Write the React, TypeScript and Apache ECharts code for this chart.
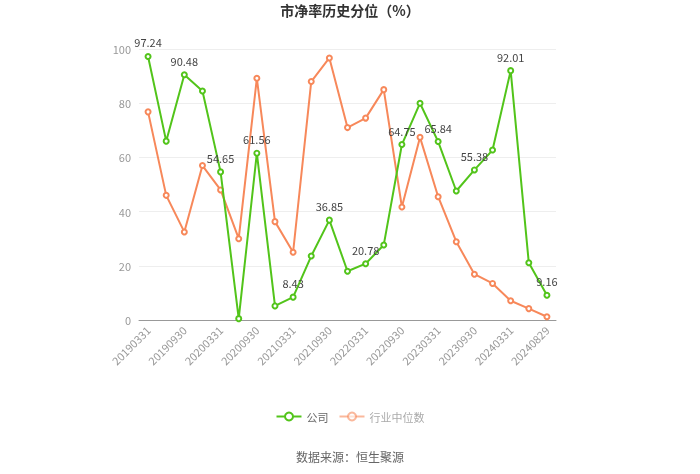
import React, { useEffect, useRef } from "react";
import * as echarts from "echarts";

const categories = [
  "20190331", "20190630", "20190930", "20191231", "20200331", "20200630",
  "20200930", "20201231", "20210331", "20210630", "20210930", "20211231",
  "20220331", "20220630", "20220930", "20221231", "20230331", "20230630",
  "20230930", "20231231", "20240331", "20240630", "20240829",
];

const companyValues = [
  97.24, 66.0, 90.48, 84.5, 54.65, 0.5, 61.56, 5.2, 8.43, 23.6, 36.85, 18.0,
  20.78, 27.7, 64.75, 80.0, 65.84, 47.6, 55.38, 62.7, 92.01, 21.1, 9.16,
];

const industryValues = [
  76.8, 46.0, 32.5, 57.0, 48.0, 30.0, 89.2, 36.3, 25.0, 88.0, 96.7, 71.0,
  74.5, 85.0, 41.7, 67.4, 45.5, 28.9, 16.9, 13.5, 7.1, 4.2, 1.2,
];

const yTicks = { min: 0, max: 100, interval: 20 };

const FONT = "'Noto Sans CJK SC', 'Noto Sans', sans-serif";

export default function App() {
  const ref = useRef<HTMLDivElement>(null);
  useEffect(() => {
    if (!ref.current) return;
    const chart = echarts.init(ref.current, undefined, { renderer: "svg" });
    chart.setOption({
      animation: false,
      textStyle: { fontFamily: FONT },
      title: {
        text: "市净率历史分位（%）",
        left: "center",
        top: -2,
        textStyle: { fontSize: 14, fontWeight: "bold", color: "#333", fontFamily: FONT },
      },
      legend: {
        bottom: 47,
        left: "center",
        itemWidth: 25,
        itemHeight: 10,
        itemGap: 10,
        textStyle: { fontSize: 11, color: "#666", fontFamily: FONT },
        data: [
          { name: "公司" },
          {
            name: "行业中位数",
            textStyle: { color: "#aaa" },
            itemStyle: { opacity: 0.6 },
            lineStyle: { opacity: 0.6 },
          },
        ],
      },
      graphic: [
        {
          type: "text",
          left: "center",
          top: 450,
          style: {
            text: "数据来源：恒生聚源",
            fontSize: 12,
            fill: "#666",
            fontFamily: FONT,
          },
        },
      ],
      grid: { left: 139, right: 144, top: 49, bottom: 154 },
      xAxis: {
        type: "category",
        data: categories,
        boundaryGap: true,
        axisLine: { lineStyle: { color: "#999" } },
        axisTick: { alignWithLabel: true, interval: 1, lineStyle: { color: "#999" } },
        axisLabel: { interval: 1, rotate: 45, fontSize: 11, color: "#999", margin: 8 },
      },
      yAxis: {
        type: "value",
        min: yTicks.min,
        max: yTicks.max,
        interval: yTicks.interval,
        axisLine: { show: false },
        axisTick: { show: false },
        axisLabel: { fontSize: 11, color: "#999" },
        splitLine: { lineStyle: { color: "#eee" } },
      },
      series: [
        {
          name: "公司",
          type: "line",
          data: companyValues,
          symbol: "emptyCircle",
          symbolSize: 5,
          itemStyle: { color: "#52C41A" },
          lineStyle: { width: 2, color: "#52C41A" },
          label: {
            show: true,
            position: "top",
            fontSize: 11,
            color: "#444",
            formatter: (p: any) => (p.dataIndex % 2 === 0 ? String(p.value) : ""),
          },
          z: 3,
        },
        {
          name: "行业中位数",
          type: "line",
          data: industryValues,
          symbol: "emptyCircle",
          symbolSize: 5,
          itemStyle: { color: "#F7885A" },
          lineStyle: { width: 2, color: "#F7885A" },
          z: 2,
        },
      ],
    });
    return () => chart.dispose();
  }, []);
  return (
    <div
      ref={ref}
      style={{ position: "fixed", left: 0, top: 0, width: 700, height: 474 }}
    />
  );
}
